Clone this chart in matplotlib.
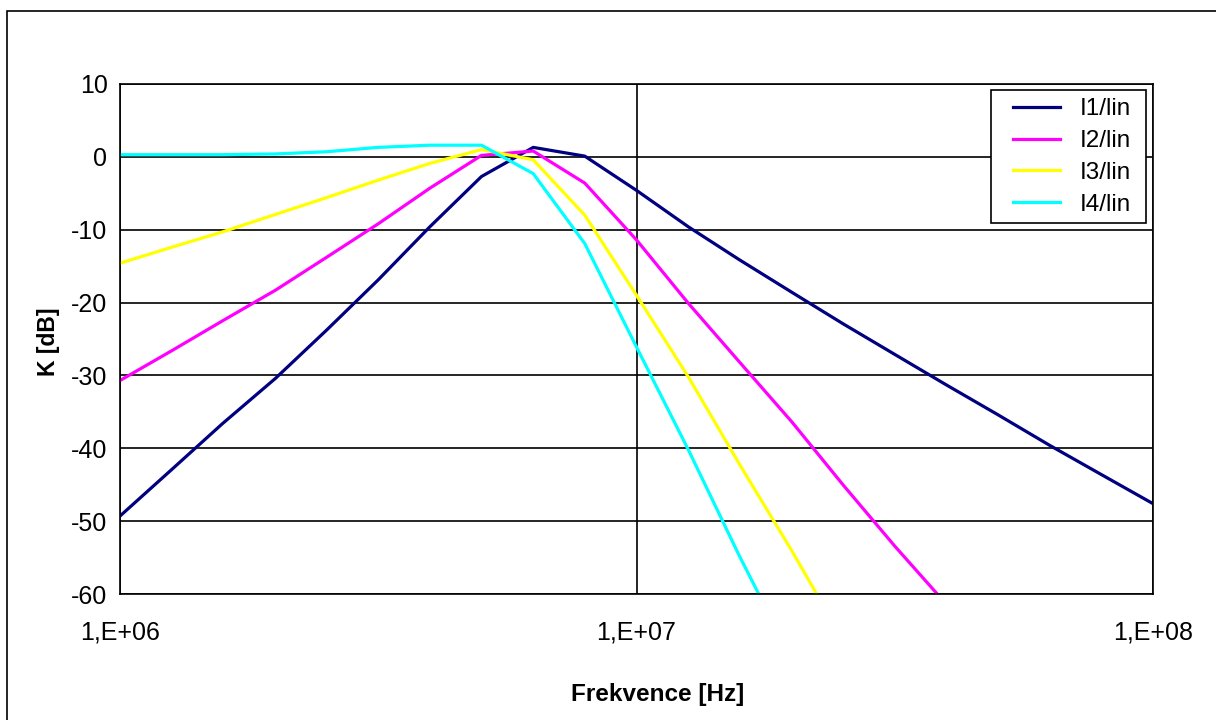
import matplotlib
matplotlib.use("Agg")
import matplotlib.pyplot as plt
from matplotlib.patches import Rectangle

plt.rcParams['font.family'] = ['Liberation Sans', 'DejaVu Sans']

# frekvence [Hz], 10 bodu na dekadu
freq = [1.0e6, 1.26e6, 1.58e6, 2.0e6, 2.51e6, 3.16e6, 3.98e6, 5.01e6, 6.31e6, 7.94e6,
        1.0e7, 1.26e7, 1.58e7, 2.0e7, 2.51e7, 3.16e7, 3.98e7, 5.01e7, 6.31e7, 7.94e7, 1.0e8]

i1 = [-49.3, -42.9, -36.6, -30.4, -23.8, -16.9, -9.6, -2.7, 1.3, 0.1,
      -4.6, -9.6, -14.1, -18.6, -22.9, -27.1, -31.3, -35.4, -39.6, -43.6, -47.6]
i2 = [-30.7, -26.6, -22.5, -18.3, -13.8, -9.2, -4.3, 0.2, 0.8, -3.6,
      -11.4, -20.1, -28.1, -36.4, -45.0, -53.4, -61.4]
i3 = [-14.6, -12.4, -10.3, -7.9, -5.6, -3.2, -0.9, 1.0, -0.4, -8.0,
      -19.0, -30.2, -42.1, -54.1, -66.3]
i4 = [0.3, 0.3, 0.3, 0.4, 0.7, 1.3, 1.6, 1.6, -2.3, -11.9,
      -26.1, -40.2, -54.7, -69.0]

series = [("I1/lin", i1, "#000080"),
          ("I2/lin", i2, "#FF00FF"),
          ("I3/lin", i3, "#FFFF00"),
          ("I4/lin", i4, "#00FFFF")]

xticks = [1e6, 1e7, 1e8]
xlabels = ["1,E+06", "1,E+07", "1,E+08"]
yticks = [10, 0, -10, -20, -30, -40, -50, -60]

fig = plt.figure(figsize=(12.16, 7.2), dpi=100)
fig.patches.append(Rectangle((7/1216, -0.05), 1.2, 1.05 - 11/720, transform=fig.transFigure,
                             fill=False, edgecolor="black", linewidth=1.2))
ax = fig.add_axes([120/1216, 1 - 594/720, 1033/1216, 510/720])

for name, vals, col in series:
    ax.plot(freq[:len(vals)], vals, color=col, linewidth=2.3, label=name)

ax.set_xscale("log")
ax.set_xlim(1e6, 1e8)
ax.set_ylim(-60, 10)
ax.set_xticks(xticks)
ax.set_xticklabels(xlabels)
ax.xaxis.set_minor_locator(matplotlib.ticker.NullLocator())
ax.set_yticks(yticks)
ax.set_yticklabels([str(v) for v in yticks])
ax.tick_params(length=0, labelsize=18)
ax.tick_params(axis="x", pad=19)
ax.tick_params(axis="y", pad=9)
ax.grid(True, color="black", linewidth=1.2)
ax.set_axisbelow(True)
for s in ax.spines.values():
    s.set_linewidth(1.2)
    s.set_color("black")

ax.set_xlabel("Frekvence [Hz]", fontsize=17.5, fontweight="bold")
ax.xaxis.set_label_coords(0.52, -0.175)
ax.set_ylabel("K [dB]", fontsize=16.5, fontweight="bold")
ax.yaxis.set_label_coords(-0.058, 0.495)

# ramecek legendy zvlast
ax.add_patch(Rectangle((0.8429, 0.7275), 0.1501, 0.2608, transform=ax.transAxes,
                       facecolor="white", edgecolor="black", linewidth=1.2, zorder=5))
leg = ax.legend(loc="upper left", bbox_to_anchor=(0.8645, 0.972), borderaxespad=0,
                fontsize=17.5, handlelength=1.93, handletextpad=0.82, labelspacing=0.4,
                borderpad=0, frameon=False)
leg.set_zorder(6)

fig.savefig("out.png", dpi=100)
